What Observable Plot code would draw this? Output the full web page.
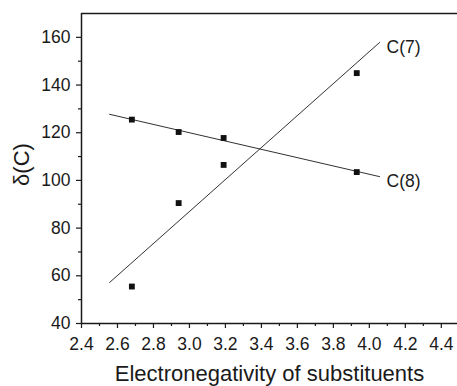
<!DOCTYPE html>
<html>
<head>
<meta charset="utf-8">
<script src="https://cdn.jsdelivr.net/npm/d3@7"></script>
<script src="https://cdn.jsdelivr.net/npm/@observablehq/plot@0.6"></script>
<style>
  html, body { margin: 0; padding: 0; background: #fff; }
  #chart svg { display: block; }
</style>
</head>
<body>
<div id="chart"></div>
<script>
// Electronegativity of the substituents for each compound
const electronegativity = [2.68, 2.94, 3.19, 3.93];
// 13C chemical shifts (ppm) of the two carbons
const shiftC7 = [55.5, 90.5, 106.5, 145.0];
const shiftC8 = [125.5, 120.3, 117.8, 103.5];
// Range over which the fitted lines are drawn
const fitRange = [2.556, 4.057];
const seriesNames = ["C(7)", "C(8)"];

const xTicks = d3.range(2.4, 4.41, 0.2);
const xMinor = d3.range(2.5, 4.41, 0.2);
const yTicks = d3.range(40, 161, 20);
const yMinor = d3.range(50, 151, 20);

// Least-squares straight line through a series
function fit(xs, ys) {
  const mx = d3.mean(xs), my = d3.mean(ys);
  const sxy = d3.sum(xs, (x, i) => (x - mx) * (ys[i] - my));
  const sxx = d3.sum(xs, x => (x - mx) ** 2);
  const b = sxy / sxx;
  return x => my + b * (x - mx);
}

const series = [shiftC7, shiftC8].map((ys, k) => ({name: seriesNames[k], ys, f: fit(electronegativity, ys)}));
const points = series.flatMap(s => electronegativity.map((x, i) => ({x, y: s.ys[i], name: s.name})));
const fitLines = series.flatMap(s => fitRange.map(x => ({x, y: s.f(x), name: s.name})));
const labels = series.map(s => ({x: fitRange[1], y: s.f(fitRange[1]), name: s.name}));

const font = "'Liberation Sans', Arial, Helvetica, sans-serif";
const ink = "#1a1a1a";

const chart = Plot.plot({
  width: 457,
  height: 386,
  marginLeft: 81,
  marginTop: 13,
  marginRight: 0,
  marginBottom: 63,
  style: {fontFamily: font, fontSize: "17px", color: ink, background: "#fff"},
  x: {domain: [2.4, 4.49]},
  y: {domain: [40, 170]},
  marks: [
    Plot.ruleY([170], {stroke: ink, strokeWidth: 1.5}),
    Plot.ruleY([40], {stroke: ink, strokeWidth: 1.5}),
    Plot.ruleX([2.4], {stroke: ink, strokeWidth: 1.5}),
    Plot.axisY({ticks: yTicks, tickSize: 5, tickPadding: 6, label: null, fontSize: 17.5, strokeWidth: 1.2}),
    Plot.axisY({ticks: yMinor, tickSize: 3, text: null, label: null, strokeWidth: 1.2}),
    Plot.axisX({ticks: xTicks, tickSize: 5, tickPadding: 9, tickFormat: d3.format(".1f"), label: null, fontSize: 17.5, strokeWidth: 1.2}),
    Plot.axisX({ticks: xMinor, tickSize: 3, text: null, label: null, strokeWidth: 1.2}),
    Plot.line(fitLines, {x: "x", y: "y", z: "name", stroke: ink, strokeWidth: 0.9}),
    Plot.dot(points, {x: "x", y: "y", symbol: "square", r: 3.3, fill: "#111", stroke: null}),
    Plot.text(labels, {x: "x", y: "y", text: "name", textAnchor: "start", dx: 7, dy: 5, fontSize: 17.5, fill: ink}),
    Plot.text(["Electronegativity of substituents"], {frameAnchor: "bottom", dy: 57, text: d => d, fontSize: 22, fill: ink, lineAnchor: "bottom"}),
    Plot.text(["δ(C)"], {frameAnchor: "left", textAnchor: "middle", lineAnchor: "middle", dx: -60, dy: -4, rotate: -90, text: d => d, fontSize: 22, fill: ink})
  ]
});
document.getElementById("chart").append(chart);
</script>
</body>
</html>
